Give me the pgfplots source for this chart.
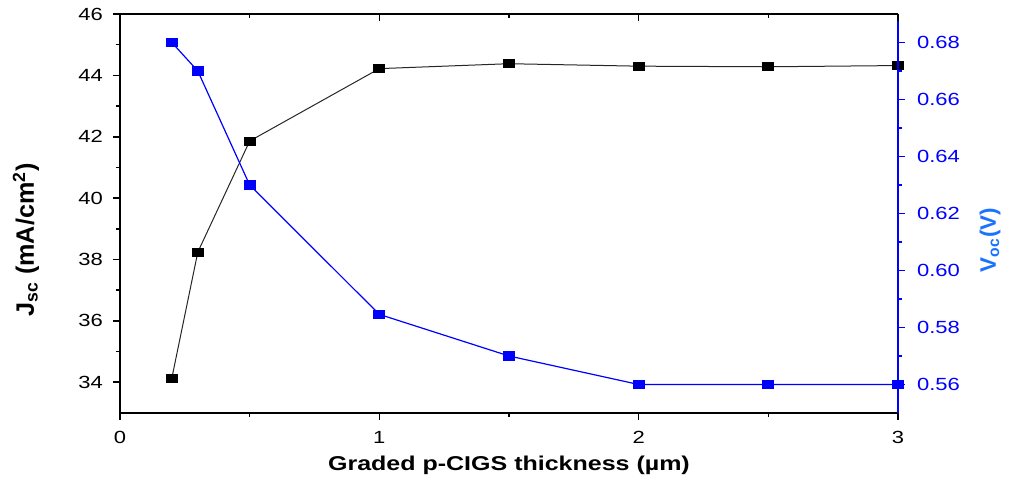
\documentclass[border=0pt]{standalone}
\usepackage{fontspec}
\setmainfont{Liberation Sans}
\newfontfamily\widefont[FakeStretch=1.25]{Liberation Sans}
\usepackage{pgfplots}
\pgfplotsset{compat=1.18}
\definecolor{vblue}{rgb}{0,0,1}
\definecolor{lblue}{rgb}{0.1,0.45,1}
\begin{document}
\begin{tikzpicture}
\pgfplotsset{
  common/.style={width=389pt,height=199.5pt,scale only axis,
    xmin=0,xmax=3,
    /pgf/number format/assume math mode=true,
    ticklabel style={font=\widefont\fontsize{8.8}{10}\selectfont},
    major tick length=3.5pt, minor tick length=2pt,
    every tick/.style={line width=0.8pt},
    axis line style={line width=1pt},
    clip=false}
}
\begin{axis}[common, name=main,
  axis x line*=bottom, axis y line*=left,
  tick align=outside,
  ymin=33, ymax=46,
  ytick={34,36,38,40,42,44,46}, minor y tick num=1,
  xtick={0,1,2,3}, minor x tick num=1,
  yticklabel style={xshift=-1.5pt},
  xticklabel style={yshift=-2pt},
  xlabel={\widefont\bfseries\fontsize{10}{12}\selectfont Graded p-CIGS thickness (µm)},
  xlabel style={at={(rel axis cs:0.5,0)}, anchor=center, yshift=-26pt},
  ylabel={\bfseries\fontsize{12.6}{15}\selectfont J\textsubscript{sc} (mA/cm\textsuperscript{2})},
  ylabel style={at={(rel axis cs:-0.1208,0.4336)}, anchor=center},
]
\addplot[black!85, line width=0.5pt, mark=square*, mark size=2pt,
  mark options={black, solid, xscale=1.35}]
  coordinates {(0.2,34.14) (0.3,38.24) (0.5,41.86) (1,44.22) (1.5,44.38) (2,44.30) (2.5,44.28) (3,44.32)};
\end{axis}
\begin{axis}[common,
  axis x line=none, axis y line*=right,
  tick align=outside,
  ymin=0.55, ymax=0.69,
  ytick={0.56,0.58,0.60,0.62,0.64,0.66,0.68}, minor y tick num=1,
  yticklabel style={vblue, xshift=2.5pt, /pgf/number format/fixed, /pgf/number format/fixed zerofill, /pgf/number format/precision=2},
  y axis line style={vblue},
  ytick style={vblue},
  ylabel={\color{lblue}\bfseries\fontsize{11.2}{13}\selectfont V\textsubscript{oc}(V)},
  ylabel style={at={(rel axis cs:1.1183,0.4336)}, anchor=center},
]
\addplot[vblue, line width=0.6pt, mark=square*, mark size=2pt,
  mark options={vblue, solid, xscale=1.35}]
  coordinates {(0.2,0.680) (0.3,0.670) (0.5,0.630) (1,0.5846) (1.5,0.570) (2,0.560) (2.5,0.560) (3,0.560)};
\end{axis}
\begin{axis}[common,
  axis y line=none, axis x line*=top,
  tick align=inside,
  ymin=0, ymax=1,
  xtick={0,1,2,3}, minor x tick num=1, xticklabels={},
]
\end{axis}
\pgfresetboundingbox
\path[use as bounding box] ([xshift=-60pt,yshift=-36.5pt]main.south west) rectangle ([xshift=447pt,yshift=206.5pt]main.south west);
\end{tikzpicture}
\end{document}
